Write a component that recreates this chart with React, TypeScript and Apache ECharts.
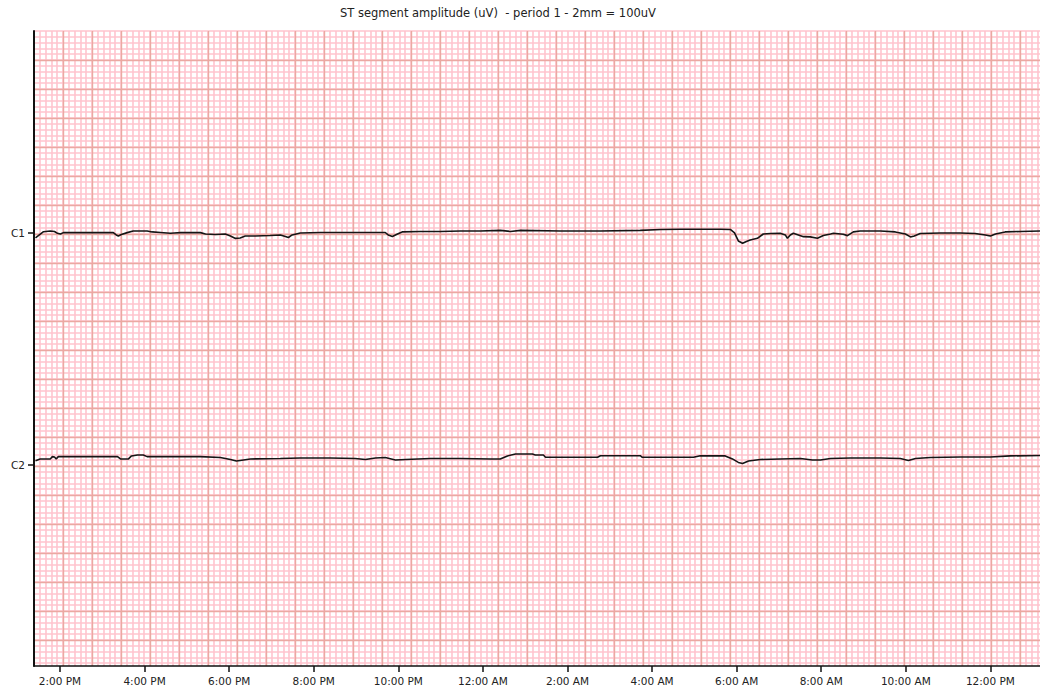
import React, { useEffect, useRef } from 'react';
import * as echarts from 'echarts';

const TITLE = 'ST segment amplitude (uV)  - period 1 - 2mm = 100uV';

// x axis: hours since midnight of day 1 (24 = 12:00 AM of day 2)
const TICK_HOURS = [14, 16, 18, 20, 22, 24, 26, 28, 30, 32, 34, 36];
const TICK_LABELS = ['2:00 PM', '4:00 PM', '6:00 PM', '8:00 PM', '10:00 PM', '12:00 AM', '2:00 AM', '4:00 AM', '6:00 AM', '8:00 AM', '10:00 AM', '12:00 PM'];

const CHANNELS = ['C1', 'C2'];
const CHANNEL_OFFSETS_UV = [2000, 0];

// ST amplitude (uV) of channel C1
const C1_HOURS = [13.42, 13.61, 13.77, 13.87, 13.94, 14.01, 14.08, 15.26, 15.33, 15.38, 15.45, 15.59, 15.73, 16.06, 16.18, 16.37, 16.61, 16.7, 16.85, 17.32, 17.44, 17.67, 17.91, 18.03, 18.15, 18.26, 18.38, 18.62, 18.97, 19.21, 19.33, 19.4, 19.49, 19.68, 20.16, 20.63, 21.1, 21.69, 21.76, 21.86, 21.98, 22.09, 22.52, 22.99, 23.47, 23.94, 24.41, 24.65, 24.89, 25.83, 26.78, 27.72, 28.2, 28.67, 29.14, 29.62, 29.85, 29.95, 30.04, 30.14, 30.23, 30.32, 30.49, 30.63, 30.8, 31.03, 31.15, 31.2, 31.27, 31.34, 31.46, 31.58, 31.74, 31.91, 32.05, 32.22, 32.29, 32.52, 32.62, 32.76, 32.92, 33.4, 33.75, 33.99, 34.11, 34.2, 34.34, 34.82, 35.29, 35.64, 35.88, 36.0, 36.12, 36.35, 36.71, 37.18];
const C1_UV = [-43, 11, 17, 13, -3, -9, 3, 3, -17, -26, -13, 3, 17, 17, 9, 4, -3, 0, 3, 3, -9, -13, -9, -26, -47, -43, -26, -26, -22, -17, -30, -39, -17, 0, 4, 4, 4, 4, -17, -30, -9, 9, 13, 13, 17, 17, 22, 13, 22, 17, 17, 22, 30, 32, 32, 32, 30, 0, -69, -89, -73, -60, -46, -9, -4, -3, -17, -46, -17, -3, -17, -32, -34, -46, -22, -9, -3, -11, -23, 9, 17, 17, 9, -9, -34, -26, -4, 0, 0, -4, -17, -26, -9, 9, 13, 17];

// ST amplitude (uV) of channel C2
const C2_HOURS = [13.42, 13.53, 13.77, 13.82, 13.87, 13.91, 13.96, 15.36, 15.43, 15.62, 15.69, 15.83, 15.97, 16.06, 17.32, 17.79, 18.03, 18.17, 18.26, 18.5, 19.21, 19.68, 20.39, 20.98, 21.22, 21.46, 21.69, 21.93, 22.17, 22.76, 23.47, 24.18, 24.41, 24.58, 24.77, 25.17, 25.24, 25.43, 25.48, 26.71, 26.78, 27.72, 27.77, 28.98, 29.14, 29.73, 29.9, 30.04, 30.14, 30.28, 30.56, 31.03, 31.51, 31.79, 31.98, 32.22, 32.69, 33.4, 33.87, 34.06, 34.23, 34.58, 35.29, 36.0, 36.47, 37.18];
const C2_UV = [37, 52, 52, 72, 69, 52, 72, 72, 52, 52, 78, 86, 86, 72, 72, 65, 47, 34, 39, 52, 56, 60, 60, 56, 47, 60, 65, 43, 47, 56, 56, 52, 52, 78, 95, 95, 86, 86, 66, 66, 80, 80, 66, 66, 80, 78, 52, 22, 13, 34, 47, 52, 56, 43, 43, 56, 60, 60, 56, 39, 56, 65, 69, 69, 78, 82];

const MINOR_COLOR = '#ffc4ce';
const MAJOR_COLOR = '#eaa9a2';
const FONT = '"DejaVu Sans", Verdana, sans-serif';

export default function App() {
  const ref = useRef<HTMLDivElement>(null);

  useEffect(() => {
    if (!ref.current) return;
    const chart = echarts.init(ref.current, null, { renderer: 'svg' });

    const series = [
      { hours: C1_HOURS, uv: C1_UV, offset: CHANNEL_OFFSETS_UV[0], name: CHANNELS[0] },
      { hours: C2_HOURS, uv: C2_UV, offset: CHANNEL_OFFSETS_UV[1], name: CHANNELS[1] },
    ].map((s) => ({
      type: 'line',
      name: s.name,
      xAxisIndex: 0,
      yAxisIndex: 0,
      symbol: 'none',
      z: 5,
      lineStyle: { color: '#151515', width: 1.6 },
      data: s.hours.map((h, i) => [h, s.uv[i] + s.offset]),
    }));

    const hiddenPaperAxis = (
      kind: 'x' | 'y',
      max: number,
      interval: number,
      color: string,
      width: number,
      z: number,
      showMin: boolean
    ) => ({
      type: 'value',
      min: 0,
      max,
      interval,
      inverse: kind === 'y',
      position: kind === 'x' ? 'bottom' : 'left',
      z,
      axisLine: { show: false },
      axisTick: { show: false },
      axisLabel: { show: false },
      splitLine: { show: true, showMinLine: showMin, showMaxLine: false, lineStyle: { color, width } },
    });

    chart.setOption({
      animation: false,
      backgroundColor: '#ffffff',
      graphic: [
        {
          type: 'text',
          x: 340,
          y: 7,
          style: { text: TITLE, fill: '#222', font: '11.5px ' + FONT },
        },
      ],
      grid: { left: 34, top: 31, right: 0, bottom: 23 },
      xAxis: [
        {
          type: 'value',
          min: 13.385,
          max: 37.173,
          position: 'bottom',
          z: 8,
          axisLine: { show: true, onZero: false, lineStyle: { color: '#111', width: 1.5 } },
          axisTick: { show: true, customValues: TICK_HOURS, length: 6, lineStyle: { color: '#111', width: 1.5 } },
          axisLabel: {
            show: true,
            customValues: TICK_HOURS,
            margin: 9,
            color: '#222',
            fontSize: 10.5,
            fontFamily: FONT,
            formatter: (v: number) => TICK_LABELS[TICK_HOURS.indexOf(Math.round(v))] ?? '',
          },
          splitLine: { show: false },
        },
        hiddenPaperAxis('x', 1006 / 5.8, 1, MINOR_COLOR, 1.6, 0, true),
        hiddenPaperAxis('x', 1006 / 5.8, 5, MAJOR_COLOR, 1.4, 1, false),
      ],
      yAxis: [
        {
          type: 'value',
          min: -1733,
          max: 3741,
          position: 'left',
          z: 8,
          axisLine: { show: true, onZero: false, lineStyle: { color: '#111', width: 2 } },
          axisTick: { show: true, customValues: CHANNEL_OFFSETS_UV, length: 6, lineStyle: { color: '#111', width: 1.5 } },
          axisLabel: {
            show: true,
            customValues: CHANNEL_OFFSETS_UV,
            margin: 9,
            color: '#222',
            fontSize: 10.5,
            fontFamily: FONT,
            formatter: (v: number) => CHANNELS[CHANNEL_OFFSETS_UV.indexOf(Math.round(v))] ?? '',
          },
          splitLine: { show: false },
        },
        hiddenPaperAxis('y', 635 / 5.8, 1, MINOR_COLOR, 1.6, 0, true),
        hiddenPaperAxis('y', 635 / 5.8, 5, MAJOR_COLOR, 1.4, 1, false),
      ],
      series,
    });

    return () => chart.dispose();
  }, []);

  return (
    <div
      ref={ref}
      style={{ position: 'fixed', left: 0, top: 0, width: 1040, height: 689, background: '#fff' }}
    />
  );
}
